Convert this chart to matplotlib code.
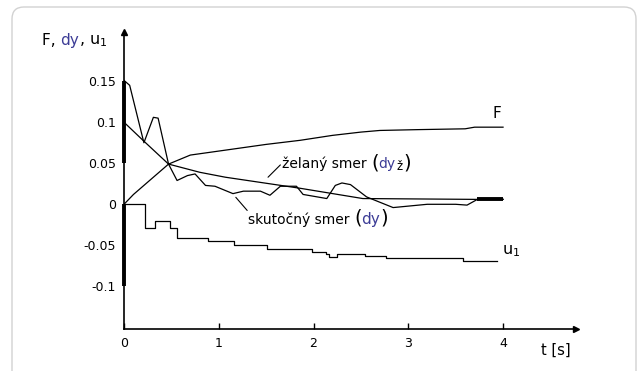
import matplotlib
matplotlib.use("Agg")
import matplotlib.pyplot as plt
import matplotlib.transforms as mtransforms
from matplotlib.patches import FancyBboxPatch
from matplotlib.offsetbox import TextArea, HPacker, AnnotationBbox

# data
t_F = [0, 0.1, 0.22, 0.35, 0.47, 0.7, 1.07, 1.5, 1.86, 2.2, 2.5, 2.7, 3.1, 3.6, 3.7, 4.0]
F = [0, 0.012, 0.024, 0.037, 0.049, 0.060, 0.066, 0.073, 0.078, 0.084, 0.088, 0.090,
     0.091, 0.092, 0.094, 0.094]

t_dyz = [0, 0.2, 0.47, 0.8, 1.07, 1.86, 2.52, 3.7, 4.0]
dyz = [0.1, 0.078, 0.049, 0.039, 0.033, 0.0195, 0.007, 0.006, 0.006]

t_dy = [0, 0.06, 0.21, 0.31, 0.36, 0.47, 0.56, 0.67, 0.75, 0.86, 0.96, 1.15, 1.26, 1.44,
        1.54, 1.65, 1.82, 1.89, 2.14, 2.23, 2.30, 2.39, 2.56, 2.84, 3.2, 3.5, 3.62, 3.73, 4.0]
dy = [0.151, 0.145, 0.075, 0.106, 0.105, 0.049, 0.029, 0.035, 0.037, 0.023, 0.022, 0.013,
      0.016, 0.016, 0.011, 0.022, 0.022, 0.012, 0.007, 0.023, 0.026, 0.024, 0.009, -0.004,
      0.0, 0.0, -0.001, 0.006, 0.006]

t_u = [0, 0.22, 0.33, 0.49, 0.56, 0.89, 1.16, 1.51, 1.98, 2.13, 2.16, 2.25, 2.54, 2.76, 3.58, 3.94]
u1 = [0, -0.029, -0.020, -0.029, -0.041, -0.045, -0.050, -0.055, -0.058, -0.060, -0.064,
      -0.061, -0.063, -0.066, -0.069, -0.069]

# jumps drawn on the vertical axis at t = 0
jump_dy = [0.05, 0.15]
jump_u = [-0.1, 0.0]

x_ticks = [0, 1, 2, 3, 4]
y_ticks = [-0.1, -0.05, 0, 0.05, 0.1, 0.15]
y_tick_labels = ["-0.1", "-0.05", "0", "0.05", "0.1", "0.15"]

DY_COLOR = "#3c3c96"
FS = 9
FS_LAB = 10


def rich_label(ax, xy, parts, coords="data"):
    boxes = []
    for text, color, size in parts:
        boxes.append(TextArea(text, textprops=dict(color=color, fontsize=size)))
    pack = HPacker(children=boxes, align="baseline", pad=0, sep=0)
    ab = AnnotationBbox(pack, xy, xycoords=coords, box_alignment=(0, 0.5),
                        frameon=False, pad=0, annotation_clip=False)
    ax.add_artist(ab)


fig = plt.figure(figsize=(6.41, 3.71), dpi=100)
fig.patch.set_facecolor("white")

# rounded card border
card = FancyBboxPatch((12, -40), 624, 404, boxstyle="round,pad=0,rounding_size=12",
                      facecolor="none", edgecolor="#d2d2d2", linewidth=1, zorder=-10,
                      transform=mtransforms.IdentityTransform())
fig.patches.append(card)

ax = fig.add_axes([124 / 641, 42 / 371, 452 / 641, 297 / 371])
ax.set_facecolor("none")
ax.set_xlim(0, 4.77)
ax.set_ylim(-0.152, 0.21)

for side in ["top", "right"]:
    ax.spines[side].set_visible(False)
for side in ["left", "bottom"]:
    ax.spines[side].set_linewidth(1.2)

ax.plot(1, 0, ">k", markersize=4, transform=ax.transAxes, clip_on=False)
ax.plot(0, 1, "^k", markersize=4, transform=ax.transAxes, clip_on=False)

ax.set_xticks(x_ticks)
ax.set_xticklabels([str(v) for v in x_ticks])
ax.set_yticks(y_ticks)
ax.set_yticklabels(y_tick_labels)
ax.tick_params(axis="x", direction="in", length=4, width=1, pad=6, labelsize=FS)
ax.tick_params(axis="y", length=0, pad=6, labelsize=FS)

lw = 0.9
ax.plot(t_F, F, color="black", lw=lw)
ax.plot(t_dyz, dyz, color="black", lw=lw)
ax.plot(t_dy, dy, color="black", lw=lw)
ax.plot(t_dy[-2:], dy[-2:], color="black", lw=2.8, solid_capstyle="butt")
ax.plot(t_u, u1, color="black", lw=lw, drawstyle="steps-post")

ax.plot([0, 0], jump_dy, color="black", lw=2.8, solid_capstyle="butt", clip_on=False)
ax.plot([0, 0], jump_u, color="black", lw=2.8, solid_capstyle="butt", clip_on=False)

# curve labels
ax.text(3.93, 0.111, "F", fontsize=11, ha="center", va="center")
ax.text(3.99, -0.057, "u$_{1}$", fontsize=11.5, ha="left", va="center")
ax.text(4.40, -0.178, "t [s]", fontsize=10.5, ha="left", va="center", clip_on=False)

ax.annotate("", xy=(1.52, 0.033), xytext=(1.65, 0.048),
            arrowprops=dict(arrowstyle="-", lw=0.8, color="black", shrinkA=0, shrinkB=0))
ax.annotate("", xy=(1.18, 0.0085), xytext=(1.30, -0.0075),
            arrowprops=dict(arrowstyle="-", lw=0.8, color="black", shrinkA=0, shrinkB=0))

rich_label(ax, (1.668, 0.050), [
    ("želaný smer ", "black", FS_LAB),
    ("(", "black", FS_LAB + 4),
    ("dy", DY_COLOR, FS_LAB),
    (r"$_{\mathregular{ž}}$", "black", FS_LAB + 2),
    (")", "black", FS_LAB + 4),
])
rich_label(ax, (1.309, -0.017), [
    ("skutočný smer ", "black", FS_LAB),
    ("(", "black", FS_LAB + 4),
    ("dy", DY_COLOR, FS_LAB + 1),
    (")", "black", FS_LAB + 4),
])
rich_label(ax, (42 / 641, 1 - 41 / 371), [
    ("F, ", "black", 11),
    ("dy", DY_COLOR, 11),
    (", u$_{1}$", "black", 11.5),
], coords="figure fraction")

fig.savefig("out.png", dpi=100)
